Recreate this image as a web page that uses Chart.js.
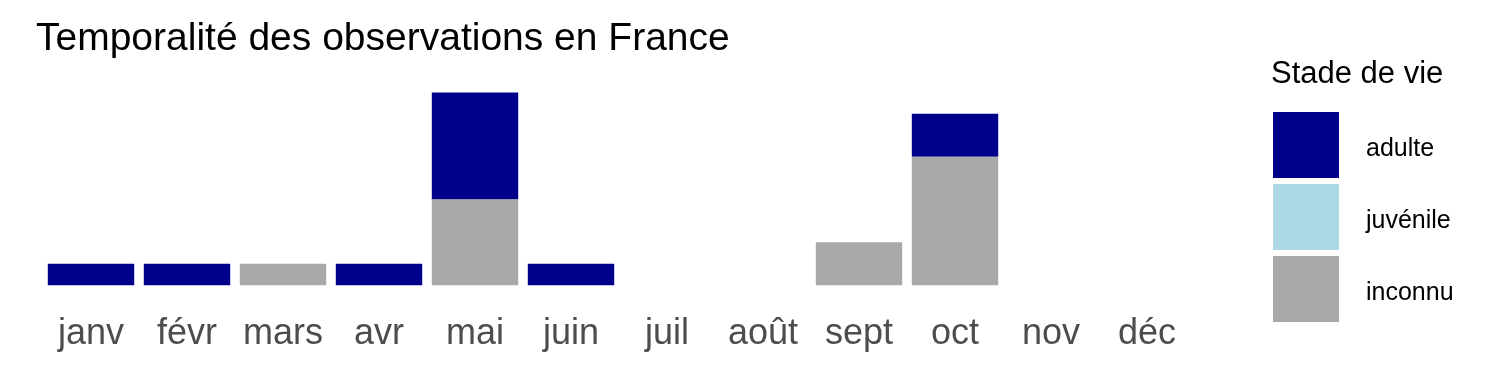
<!DOCTYPE html>
<html>
<head>
<meta charset="utf-8">
<script src="https://cdn.jsdelivr.net/npm/chart.js@4"></script>
<style>
  html, body { margin: 0; padding: 0; background: #fff; }
  #wrap { width: 1500px; height: 375px; }
</style>
</head>
<body>
<div id="wrap"><canvas id="chart"></canvas></div>
<script>
const months = ['janv', 'févr', 'mars', 'avr', 'mai', 'juin', 'juil', 'août', 'sept', 'oct', 'nov', 'déc'];
const adulte = [1, 1, 0, 1, 5, 1, 0, 0, 0, 2, 0, 0];
const juvenile = [0, 0, 0, 0, 0, 0, 0, 0, 0, 0, 0, 0];
const inconnu = [0, 0, 1, 0, 4, 0, 0, 0, 2, 6, 0, 0];

const FONT = '"Liberation Sans", Arial, sans-serif';

// légende dessinée à la main, façon ggplot
const sideLegend = {
  id: 'sideLegend',
  afterDraw(chart) {
    const ctx = chart.ctx;
    const x0 = 1273, y0 = 112, size = 66, step = 72;
    ctx.save();
    ctx.fillStyle = '#000';
    ctx.textBaseline = 'alphabetic';
    ctx.font = '31px ' + FONT;
    ctx.fillText('Stade de vie', 1271, 83);
    ctx.font = '25px ' + FONT;
    chart.data.datasets.slice().reverse().forEach((ds, i) => {
      const y = y0 + i * step;
      ctx.fillStyle = ds.backgroundColor;
      ctx.fillRect(x0, y, size, size);
      ctx.fillStyle = '#000';
      ctx.fillText(ds.label, 1366, y + 44);
    });
    ctx.restore();
  }
};

const data = {
  labels: months,
  datasets: [
    { label: 'inconnu', data: inconnu, backgroundColor: '#A9A9A9' },
    { label: 'juvénile', data: juvenile, backgroundColor: '#ADD8E6' },
    { label: 'adulte', data: adulte, backgroundColor: '#00008B' },
  ]
};

const config = {
  type: 'bar',
  data,
  options: {
    responsive: true,
    maintainAspectRatio: false,
    animation: false,
    layout: {
      padding: { left: 36, right: 305, top: 0, bottom: 1 }
    },
    datasets: {
      bar: {
        categoryPercentage: 1,
        barPercentage: 0.9,
        borderWidth: 0,
      }
    },
    plugins: {
      legend: { display: false },
      tooltip: { enabled: false },
      title: {
        display: true,
        text: 'Temporalité des observations en France',
        align: 'start',
        color: '#000',
        font: { family: FONT, size: 39, weight: 'normal' },
        padding: { top: 16, bottom: 20 }
      }
    },
    scales: {
      x: {
        stacked: true,
        grid: { display: false, drawTicks: false },
        border: { display: false },
        ticks: {
          color: '#4D4D4D',
          padding: 18,
          font: { family: FONT, size: 36 }
        }
      },
      y: {
        stacked: true,
        min: -0.45,
        max: 9.45,
        grid: { display: false, drawTicks: false },
        border: { display: false },
        ticks: { display: false },
        afterFit(scale) { scale.width = 7; }
      }
    }
  },
  plugins: [sideLegend]
};

new Chart(document.getElementById('chart'), config);
</script>
</body>
</html>
